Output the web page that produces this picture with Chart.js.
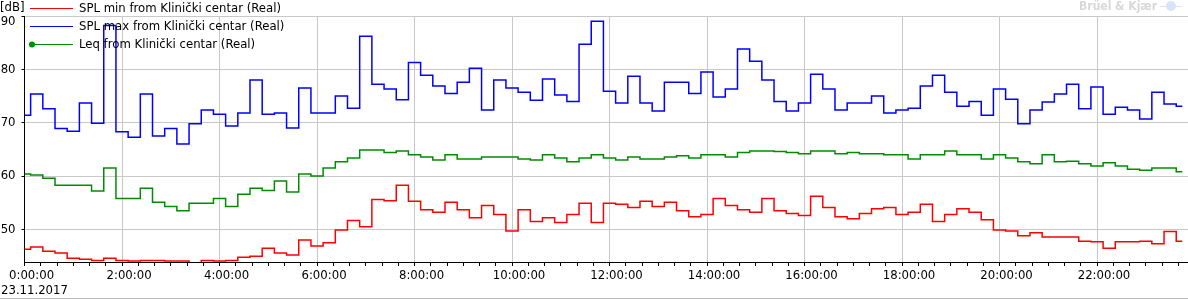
<!DOCTYPE html>
<html><head><meta charset="utf-8">
<script src="https://cdn.jsdelivr.net/npm/chart.js@4"></script>
<style>html,body{margin:0;padding:0;background:#fff}#wrap{width:1188px;height:300px;position:relative}</style>
</head><body><div id="wrap"><canvas id="c"></canvas></div>
<script>
const times = [
"0:00","0:15","0:30","0:45","1:00","1:15","1:30","1:45","2:00","2:15","2:30","2:45",
"3:00","3:15","3:30","3:45","4:00","4:15","4:30","4:45","5:00","5:15","5:30","5:45",
"6:00","6:15","6:30","6:45","7:00","7:15","7:30","7:45","8:00","8:15","8:30","8:45",
"9:00","9:15","9:30","9:45","10:00","10:15","10:30","10:45","11:00","11:15","11:30","11:45",
"12:00","12:15","12:30","12:45","13:00","13:15","13:30","13:45","14:00","14:15","14:30","14:45",
"15:00","15:15","15:30","15:45","16:00","16:15","16:30","16:45","17:00","17:15","17:30","17:45",
"18:00","18:15","18:30","18:45","19:00","19:15","19:30","19:45","20:00","20:15","20:30","20:45",
"21:00","21:15","21:30","21:45","22:00","22:15","22:30","22:45","23:00","23:15","23:30","23:45"];

const splMin = [
46.3,46.7,45.9,45.6,44.6,44.4,44.2,44.6,44.2,44.1,44.2,44.2,
44.1,44.1,43.0,44.2,44.1,44.2,44.8,45.0,46.5,45.6,45.2,48.0,
46.9,47.5,49.9,51.7,50.5,55.6,55.4,58.3,55.3,53.7,53.2,55.1,
53.7,52.2,54.5,52.8,49.7,53.7,51.5,52.2,51.3,52.8,54.9,51.3,
54.9,54.7,54.1,55.3,54.3,55.1,53.5,52.4,52.8,55.8,54.5,53.7,
53.2,55.8,53.5,53.0,52.6,56.2,54.1,52.4,52.0,53.0,53.9,54.1,
52.8,53.2,54.7,51.5,52.8,53.9,53.2,51.8,49.9,49.7,48.8,49.4,
48.6,48.6,48.6,47.8,47.7,46.5,47.7,47.7,47.8,47.3,49.6,47.8];

const splMax = [
71.4,75.4,72.6,68.9,68.4,73.7,69.9,88.2,68.3,67.3,75.4,67.5,
68.9,66.0,69.8,72.4,71.6,69.4,71.8,78.0,71.6,71.8,69.0,76.5,
71.8,71.8,75.0,72.7,86.2,77.2,76.3,74.3,81.3,78.9,76.9,75.5,
77.6,80.2,72.4,78.0,76.5,75.7,74.2,78.2,75.2,74.0,84.7,89.0,
75.9,73.7,78.7,73.7,72.2,77.6,77.6,75.5,79.5,74.8,76.3,83.8,
81.5,78.0,74.0,72.2,73.7,79.1,76.3,72.4,73.7,73.7,75.0,71.8,
72.4,72.7,76.9,78.9,75.7,73.1,74.0,71.4,76.3,74.4,69.8,72.4,
73.9,75.4,77.2,72.6,76.7,71.6,72.9,72.4,70.7,75.7,73.5,73.1];

const leq = [
60.4,60.2,59.6,58.3,58.3,58.3,57.2,61.5,55.8,55.8,57.7,55.1,
54.3,53.5,54.9,54.9,55.8,54.3,56.6,57.7,57.3,59.1,57.0,60.4,
60.0,61.5,62.7,63.4,64.9,64.9,64.4,64.7,64.0,63.6,63.0,64.0,
63.2,63.2,63.6,63.6,63.6,63.2,63.0,64.0,63.4,62.7,63.4,64.0,
63.4,63.0,63.6,63.2,63.2,63.6,63.8,63.4,64.0,64.0,63.6,64.4,
64.7,64.7,64.6,64.4,64.2,64.7,64.7,64.2,64.4,64.2,64.2,64.0,
64.0,63.2,64.0,64.0,64.7,64.0,64.0,63.2,64.0,63.4,62.7,62.3,
64.0,62.7,62.8,62.3,61.9,62.5,61.9,61.3,61.1,61.5,61.5,60.8];

const xTickLabels = ["0:00:00","2:00:00","4:00:00","6:00:00","8:00:00","10:00:00",
"12:00:00","14:00:00","16:00:00","18:00:00","20:00:00","22:00:00"];
const yTickValues = [50,60,70,80,90];
const seriesNames = ["SPL min from Klinički centar (Real)","SPL max from Klinički centar (Real)","Leq from Klinički centar (Real)"];
const seriesColors = ["#ff0000","#0000ff","#008c00"];
const dateLabel = "23.11.2017";
const unitLabel = "[dB]";
const brandLabel = "Brüel & Kjær";

const FONT = "'DejaVu Sans Condensed', 'DejaVu Sans', sans-serif";
const Y_MAX = 90;
function toMin(t){const p=t.split(':').map(Number);return p[0]*60+p[1];}
function pts(vals){return vals.map((v,i)=>({x:toMin(times[i]),y:v}));}

const overlay = {
  id:'overlay',
  afterDraw(chart){
    const ctx=chart.ctx;
    const ys=chart.scales.y;
    ctx.save();
    ctx.font = `13px ${FONT}`;
    ctx.fillStyle='#000';
    ctx.textBaseline='middle';
    ctx.textAlign='left';
    ctx.fillText(unitLabel, 0, 8);
    // top y label kept inside the plot (clamped below its tick)
    ctx.textAlign='right';
    ctx.fillText(String(Y_MAX), ys.right-3-6, ys.getPixelForValue(Y_MAX)+5.5);
    ctx.textAlign='left';
    const rows=[8.5,26.5,44.5];
    for(let i=0;i<3;i++){
      ctx.strokeStyle=seriesColors[i];
      ctx.lineWidth=1;
      ctx.beginPath();ctx.moveTo(30,rows[i]);ctx.lineTo(73,rows[i]);ctx.stroke();
      if(i===2){ctx.fillStyle=seriesColors[i];ctx.beginPath();ctx.arc(32,rows[i],3,0,Math.PI*2);ctx.fill();}
      ctx.fillStyle='#000';
      ctx.fillText(seriesNames[i],79,rows[i]);
    }
    ctx.fillText(dateLabel,1,291);
    ctx.strokeStyle='#bdbdbd';ctx.lineWidth=1;
    ctx.beginPath();ctx.moveTo(0,298.5);ctx.lineTo(1188,298.5);ctx.stroke();
    ctx.font = `bold 12px ${FONT}`;
    ctx.fillStyle='#d8d8d8';
    ctx.textAlign='right';
    ctx.fillText(brandLabel,1157,7);
    ctx.fillStyle='#d6e4f7';
    ctx.beginPath();ctx.arc(1171,6,5,0,Math.PI*2);ctx.fill();
    ctx.fillRect(1160,6,22,1);
    ctx.restore();
  }
};

const ds = (i,vals)=>({label:seriesNames[i],data:pts(vals),borderColor:seriesColors[i],backgroundColor:seriesColors[i],
  borderWidth:1.5,pointRadius:0,stepped:'middle',fill:false,tension:0});

new Chart(document.getElementById('c'),{
  type:'line',
  data:{datasets:[ds(1,splMax),ds(2,leq),ds(0,splMin)]},
  options:{
    animation:false,responsive:true,maintainAspectRatio:false,
    layout:{padding:{top:16,left:0,right:0,bottom:0}},
    plugins:{legend:{display:false},tooltip:{enabled:false}},
    scales:{
      x:{type:'linear',min:0,max:1432,
        afterFit(s){s.height=38;},
        border:{color:'#000',width:1},
        grid:{color:c=>(c.tick&&c.tick.value%120===0)?'#c8c8c8':'rgba(0,0,0,0)',tickColor:'#000',tickLength:4,lineWidth:1},
        ticks:{stepSize:20,autoSkip:false,maxRotation:0,minRotation:0,includeBounds:false,labelOffset:7,padding:2,color:'#000',
          font:{family:FONT,size:13},callback(v){return v%120===0?xTickLabels[v/120]:'';}}
      },
      y:{min:43.9,max:Y_MAX,
        afterFit(s){s.width=24;},
        afterBuildTicks(s){s.ticks=yTickValues.map(v=>({value:v}));},
        border:{color:'#000',width:1},
        grid:{color:'#c8c8c8',tickColor:'#000',tickLength:3,lineWidth:1},
        ticks:{padding:6,color:'#000',font:{family:FONT,size:13},callback(v){return v===Y_MAX?'':String(v);}}
      }
    }
  },
  plugins:[overlay]
});
</script></body></html>
